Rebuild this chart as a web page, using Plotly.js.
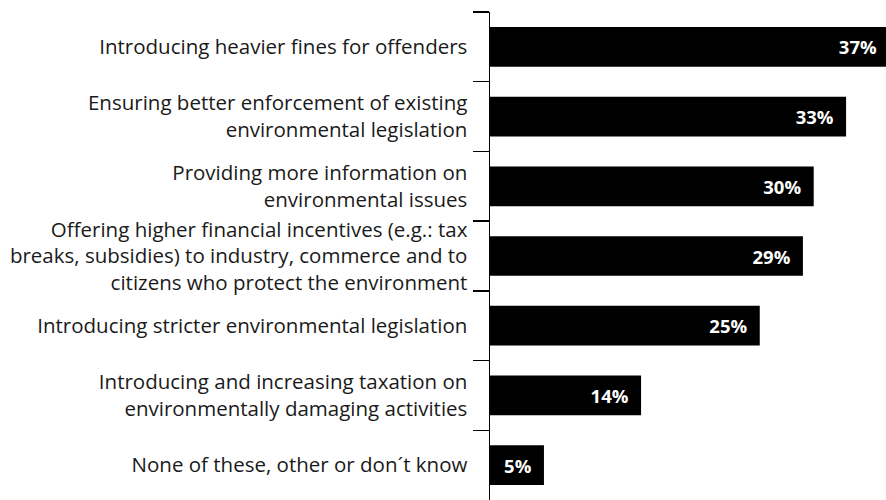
<!DOCTYPE html>
<html>
<head>
<meta charset="utf-8">
<script src="https://cdn.plot.ly/plotly-3.0.1.min.js"></script>
<style>html,body{margin:0;padding:0;background:#fff;}#chart{width:886px;height:500px;}</style>
</head>
<body>
<div id="chart"></div>
<script>
const categories = [
  "Introducing heavier fines for offenders",
  "Ensuring better enforcement of existing<br>environmental legislation",
  "Providing more information on<br>environmental issues",
  "Offering higher financial incentives (e.g.: tax<br>breaks, subsidies) to industry, commerce and to<br>citizens who protect the environment",
  "Introducing stricter environmental legislation",
  "Introducing and increasing taxation on<br>environmentally damaging activities",
  "None of these, other or don´t know"
];
const values = [37, 33, 30, 29, 25, 14, 5];
const valueLabels = values.map(v => v + "%\u00a0\u00a0");

const trace = {
  type: "bar",
  orientation: "h",
  y: categories,
  x: values,
  marker: {color: "#000000"},
  text: valueLabels,
  textposition: "inside",
  insidetextanchor: "end",
  textfont: {family: "Open Sans", size: 18.5, color: "#ffffff", weight: "bold"},
  hoverinfo: "none"
};

const layout = {
  width: 886, height: 500,
  margin: {l: 490, r: 0, t: 12, b: 0},
  paper_bgcolor: "#ffffff", plot_bgcolor: "#ffffff",
  bargap: 0.43,
  showlegend: false,
  xaxis: {range: [0, 36.7], visible: false, fixedrange: true},
  yaxis: {
    autorange: "reversed",
    showline: true, linecolor: "#000", linewidth: 1.5,
    ticks: "outside", tickson: "boundaries", ticklen: 16, tickcolor: "#000", tickwidth: 1.5,
    ticklabelstandoff: 17,
    tickfont: {family: "Open Sans", size: 20.5, color: "#1a1a1a"},
    showgrid: false, zeroline: false, fixedrange: true
  },
  font: {family: "Open Sans"}
};

Plotly.newPlot("chart", [trace], layout, {displayModeBar: false, staticPlot: true});
</script>
</body>
</html>
